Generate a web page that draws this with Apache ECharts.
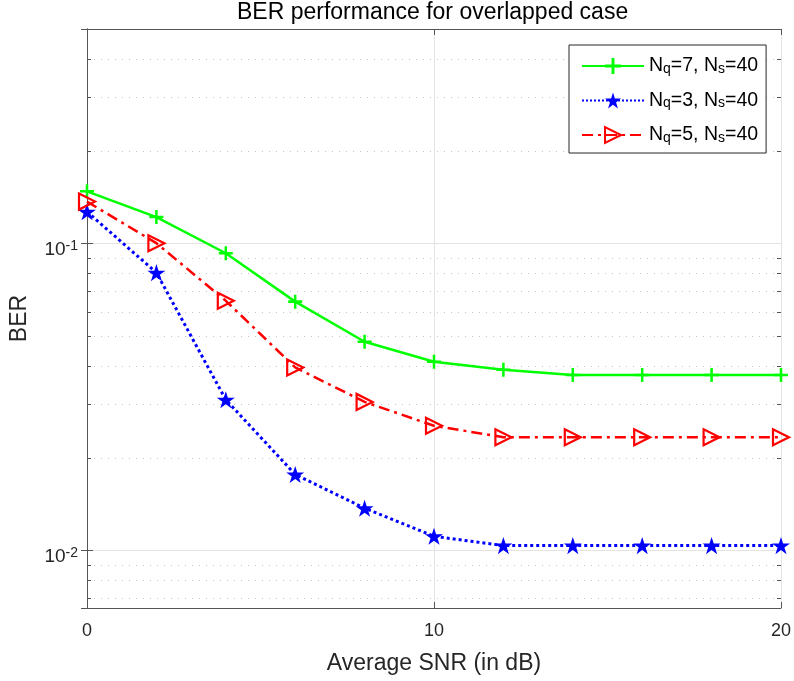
<!DOCTYPE html>
<html><head><meta charset="utf-8">
<script src="https://cdn.jsdelivr.net/npm/echarts@6/dist/echarts.min.js"></script>
<style>html,body{margin:0;padding:0;background:#fff}#c{width:794px;height:681px}</style>
</head><body><div id="c"></div>
<script>
// ---- data ----
const snr = [0, 2, 4, 6, 8, 10, 12, 14, 16, 18, 20];
const berNq7 = [0.148, 0.122, 0.093, 0.0647, 0.0479, 0.0412, 0.0388, 0.0373, 0.0373, 0.0373, 0.0373];
const berNq3 = [0.127, 0.0804, 0.0310, 0.0177, 0.01374, 0.01113, 0.01038, 0.01038, 0.01038, 0.01038, 0.01038];
const berNq5 = [0.137, 0.1003, 0.0651, 0.0395, 0.0305, 0.0255, 0.0234, 0.0234, 0.0234, 0.0234, 0.0234];
const seriesNames = ['N_q=7, N_s=40', 'N_q=3, N_s=40', 'N_q=5, N_s=40'];
const xTickStep = 10;
const xRange = [0, 20];
const yRange = [0.0065, 0.5];
const yMinorTicks = [0.007, 0.008, 0.009, 0.02, 0.03, 0.04, 0.05, 0.06, 0.07, 0.08, 0.09, 0.2, 0.3, 0.4];

const FONT = 'Liberation Sans, Arial, Helvetica, sans-serif';
const AXIS_COLOR = '#555555';
const TEXT_COLOR = '#262626';

const pairs = arr => snr.map((x, i) => [x, arr[i]]);
const plusPath = 'path://M41,0 H59 V41 H100 V59 H59 V100 H41 V59 H0 V41 H41 Z';
const starPath = 'path://M100,0 L122.45,69.1 L195.1,69.1 L136.33,111.8 L158.78,180.9 L100,138.2 L41.22,180.9 L63.67,111.8 L4.9,69.1 L77.55,69.1 Z';

const chart = echarts.init(document.getElementById('c'), null, {renderer: 'canvas'});

const isPow10 = v => { const l = Math.log10(v); return Math.abs(l - Math.round(l)) < 1e-6; };

const option = {
  backgroundColor: '#fff',
  animation: false,
  textStyle: {fontFamily: FONT},
  title: {
    text: 'BER performance for overlapped case',
    left: 237, top: 1, padding: 0,
    textStyle: {fontSize: 23, fontWeight: 'normal', color: '#000', fontFamily: FONT, lineHeight: 24}
  },
  grid: {left: 85, right: 13, top: 29, bottom: 73, containLabel: false},
  legend: {
    orient: 'vertical', left: 569, top: 45,
    padding: [11, 8, 8, 12],
    itemWidth: 62, itemHeight: 20, itemGap: 14.5,
    backgroundColor: '#fff', borderColor: '#262626', borderWidth: 1, borderRadius: 0,
    data: seriesNames,
    formatter: name => '{n|' + name.replace(/_(\w)/g, '}{s|$1}{n|') + '}',
    textStyle: {
      fontFamily: FONT,
      rich: {
        n: {fontSize: 19.5, lineHeight: 20, verticalAlign: 'top', color: '#000', fontFamily: FONT},
        s: {fontSize: 14, lineHeight: 4, verticalAlign: 'bottom', color: '#000', fontFamily: FONT}
      }
    }
  },
  xAxis: [{
    type: 'value', min: xRange[0], max: xRange[1], interval: xTickStep,
    name: 'Average SNR (in dB)', nameLocation: 'middle', nameGap: 44,
    nameTextStyle: {fontSize: 23, color: TEXT_COLOR, fontFamily: FONT},
    axisLine: {show: true, lineStyle: {color: AXIS_COLOR, width: 1}},
    axisTick: {show: true, inside: true, length: 6, lineStyle: {color: AXIS_COLOR}},
    axisLabel: {margin: 14, fontSize: 18, color: TEXT_COLOR, fontFamily: FONT},
    splitLine: {show: true, lineStyle: {color: '#e3e3e3', width: 1}}
  }, {
    type: 'value', position: 'top', min: xRange[0], max: xRange[1], interval: xTickStep,
    axisLine: {show: true, lineStyle: {color: AXIS_COLOR, width: 1}},
    axisTick: {show: true, inside: true, length: 6, lineStyle: {color: AXIS_COLOR}},
    axisLabel: {show: false}, splitLine: {show: false}
  }],
  yAxis: [{
    type: 'log', logBase: 10, min: yRange[0], max: yRange[1],
    name: 'BER', nameLocation: 'middle', nameGap: 56,
    nameTextStyle: {fontSize: 23, color: TEXT_COLOR, fontFamily: FONT},
    axisLine: {show: true, lineStyle: {color: AXIS_COLOR, width: 1}},
    axisTick: {show: true, inside: true, length: 6, lineStyle: {color: AXIS_COLOR}},
    axisLabel: {
      margin: 9, padding: [12, 0, 0, 0],
      formatter: v => isPow10(v) ? '{b|10}{e|' + Math.round(Math.log10(v)) + '}' : '',
      rich: {
        b: {fontSize: 19, lineHeight: 20, verticalAlign: 'bottom', color: TEXT_COLOR, fontFamily: FONT},
        e: {fontSize: 14, lineHeight: 6, verticalAlign: 'top', color: TEXT_COLOR, fontFamily: FONT}
      }
    },
    splitLine: {show: true, lineStyle: {color: '#e3e3e3', width: 1}}
  }, {
    type: 'log', logBase: 10, min: yRange[0], max: yRange[1], position: 'right',
    axisLine: {show: true, lineStyle: {color: AXIS_COLOR, width: 1}},
    axisTick: {show: true, inside: true, length: 6, lineStyle: {color: AXIS_COLOR}},
    axisLabel: {show: false}, splitLine: {show: false}
  }],
  series: [
    {
      type: 'custom', name: 'minorGrid', silent: true, z: 1, xAxisIndex: 0, yAxisIndex: 0,
      data: yMinorTicks.map(v => [xRange[0], v]),
      renderItem: (params, api) => {
        const v = api.value(1);
        const p0 = api.coord([xRange[0], v]);
        const p1 = api.coord([xRange[1], v]);
        const y = Math.round(p0[1]) + 0.5;
        return {type: 'group', children: [
          {type: 'line', shape: {x1: p0[0], y1: y, x2: p1[0], y2: y}, style: {stroke: '#c4c4c4', lineWidth: 1, lineDash: [1, 6]}},
          {type: 'line', shape: {x1: p0[0], y1: y, x2: p0[0] + 4, y2: y}, style: {stroke: AXIS_COLOR, lineWidth: 1}},
          {type: 'line', shape: {x1: p1[0] - 4, y1: y, x2: p1[0], y2: y}, style: {stroke: AXIS_COLOR, lineWidth: 1}}
        ]};
      }
    },
    {
      type: 'line', name: seriesNames[0], data: pairs(berNq7), z: 5,
      symbol: plusPath, symbolSize: 14, showAllSymbol: true,
      lineStyle: {color: '#00ff00', width: 2.5, type: 'solid'},
      itemStyle: {color: '#00ff00', borderWidth: 0}
    },
    {
      type: 'line', name: seriesNames[1], data: pairs(berNq3), z: 5,
      symbol: starPath, symbolSize: 18, symbolKeepAspect: true, showAllSymbol: true,
      lineStyle: {color: '#0000ff', width: 3, type: 'dotted'},
      itemStyle: {color: '#0000ff', borderWidth: 0}
    },
    {
      type: 'line', name: seriesNames[2], data: pairs(berNq5), z: 5,
      symbol: 'triangle', symbolRotate: -90, symbolSize: 16, showAllSymbol: true,
      lineStyle: {color: '#ff0000', width: 2.5, type: [11, 5, 3, 5]},
      itemStyle: {color: 'rgba(255,255,255,0)', borderColor: '#ff0000', borderWidth: 2.2}
    }
  ]
};
chart.setOption(option);
</script>
</body></html>
